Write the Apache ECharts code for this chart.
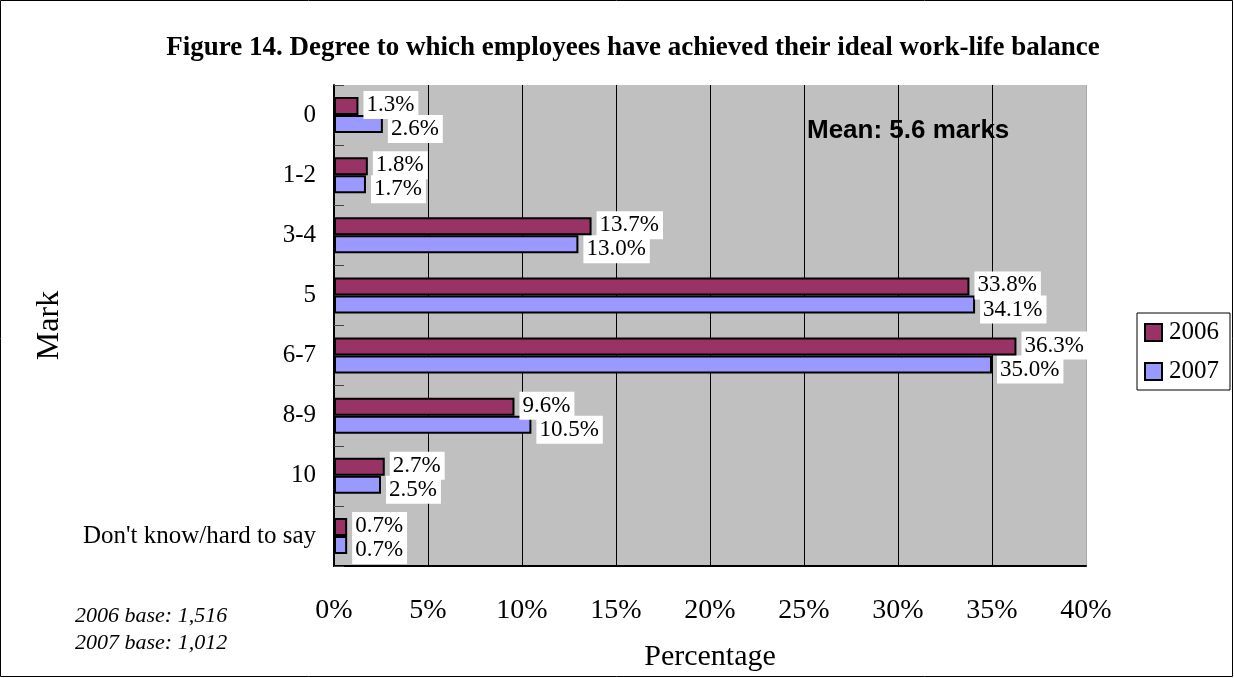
<!DOCTYPE html>
<html>
<head>
<meta charset="utf-8">
<script src="https://cdn.jsdelivr.net/npm/echarts@6/dist/echarts.min.js"></script>
<style>
  html, body { margin: 0; padding: 0; background: #fff; }
  #chart { width: 1234px; height: 678px; }
</style>
</head>
<body>
<div id="chart"></div>
<script>
// Survey categories (marks given out of 10) and shares per year, in %
const marks = ['0', '1-2', '3-4', '5', '6-7', '8-9', '10', "Don't know/hard to say"];
const share2006 = [1.3, 1.8, 13.7, 33.8, 36.3, 9.6, 2.7, 0.7];
const share2007 = [2.6, 1.7, 13.0, 34.1, 35.0, 10.5, 2.5, 0.7];
const percentTicks = [0, 5, 10, 15, 20, 25, 30, 35, 40];

const serif = 'Liberation Serif';
const sans = 'Liberation Sans';

const chart = echarts.init(document.getElementById('chart'), null, { renderer: 'canvas' });

// White-boxed value label placed just past the end of each bar
function valueLabel(dy) {
  return {
    show: true,
    position: 'right',
    distance: 5,
    offset: [0, dy],
    formatter: p => p.value.toFixed(1) + '%',
    fontFamily: serif,
    fontSize: 23,
    lineHeight: 23,
    color: '#000',
    backgroundColor: '#fff',
    padding: [1, 4, 4, 3]
  };
}

chart.setOption({
  animation: false,
  title: {
    text: 'Figure 14. Degree to which employees have achieved their ideal work-life balance',
    left: 628,
    top: 30,
    textAlign: 'center',
    textStyle: { fontFamily: serif, fontWeight: 'bold', fontSize: 27, color: '#000' }
  },
  legend: {
    orient: 'vertical',
    left: 1137,
    top: 313,
    padding: [7, 11, 6, 7],
    itemWidth: 17,
    itemHeight: 17,
    itemGap: 14,
    borderColor: '#000',
    borderWidth: 1,
    icon: 'rect',
    itemStyle: { borderColor: '#000', borderWidth: 2 },
    textStyle: { fontFamily: serif, fontSize: 25, color: '#000', padding: [0, 0, 0, 2] },
    data: ['2006', '2007']
  },
  grid: {
    left: 334,
    top: 85,
    width: 752,
    bottom: 112,
    show: true,
    backgroundColor: '#C0C0C0',
    borderWidth: 0,
    containLabel: false
  },
  xAxis: {
    type: 'value',
    min: percentTicks[0],
    max: percentTicks[percentTicks.length - 1],
    interval: 5,
    name: 'Percentage',
    nameLocation: 'middle',
    nameGap: 76,
    nameTextStyle: { fontFamily: serif, fontSize: 30, color: '#000' },
    axisLine: { show: true, lineStyle: { color: '#000', width: 2 } },
    axisTick: { show: false },
    axisLabel: {
      margin: 31,
      formatter: v => v + '%',
      fontFamily: serif,
      fontSize: 28,
      color: '#000'
    },
    splitLine: {
      show: true,
      lineStyle: {
        color: ['#000', '#000', '#000', '#000', '#000', '#000', '#000', '#000', '#A8A8A8'],
        width: 1
      }
    }
  },
  yAxis: {
    type: 'category',
    data: marks,
    inverse: true,
    name: 'Mark',
    nameLocation: 'middle',
    nameGap: 268,
    nameRotate: 90,
    nameTextStyle: { fontFamily: serif, fontSize: 32, color: '#000' },
    axisLine: { show: true, lineStyle: { color: '#000', width: 2 } },
    axisTick: { show: true, inside: true, length: 10, lineStyle: { color: '#444', width: 1 } },
    axisLabel: { margin: 18, fontFamily: serif, fontSize: 25, color: '#000' },
    splitLine: { show: false }
  },
  series: [
    {
      name: '2006',
      type: 'bar',
      z: 3,
      data: share2006,
      barGap: '0%',
      barCategoryGap: '40%',
      itemStyle: { color: '#993366', borderColor: '#000', borderWidth: 2 },
      label: valueLabel(-1)
    },
    {
      name: '2007',
      type: 'bar',
      z: 2,
      data: share2007,
      itemStyle: { color: '#9999FF', borderColor: '#000', borderWidth: 2 },
      label: valueLabel(5)
    }
  ],
  graphic: [
    {
      type: 'rect',
      shape: { x: 0.5, y: 0.5, width: 1232, height: 676 },
      style: { fill: 'none', stroke: '#000', lineWidth: 1 },
      silent: true
    },
    {
      type: 'text',
      x: 807,
      y: 131,
      z: 10,
      style: {
        text: 'Mean: 5.6 marks', fontFamily: sans, fontWeight: 'bold', fontSize: 26,
        fill: '#000', verticalAlign: 'middle'
      }
    },
    {
      type: 'text',
      x: 75,
      y: 616,
      style: {
        text: '2006 base: 1,516', fontFamily: serif, fontStyle: 'italic', fontSize: 22,
        fill: '#000', verticalAlign: 'middle'
      }
    },
    {
      type: 'text',
      x: 75,
      y: 643,
      style: {
        text: '2007 base: 1,012', fontFamily: serif, fontStyle: 'italic', fontSize: 22,
        fill: '#000', verticalAlign: 'middle'
      }
    }
  ]
});
</script>
</body>
</html>
